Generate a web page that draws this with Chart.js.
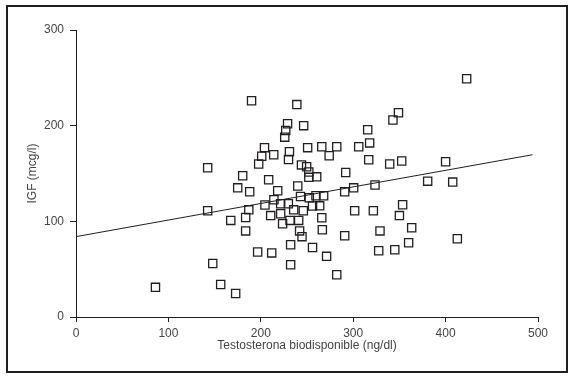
<!DOCTYPE html>
<html>
<head>
<meta charset="utf-8">
<script src="https://cdn.jsdelivr.net/npm/chart.js@4/dist/chart.umd.min.js"></script>
<style>
  html, body { margin:0; padding:0; background:#fff; }
  #wrap { position:relative; width:571px; height:379px; }
  #frame {
    position:absolute; left:6px; top:5px; width:562px; height:368px;
    box-sizing:border-box; border:2px solid #231f20; pointer-events:none;
  }
  #c { position:absolute; left:0; top:0; }
</style>
</head>
<body>
<div id="wrap">
  <canvas id="c" width="571" height="379"></canvas>
  <div id="frame"></div>
</div>
<script>
// bioavailable testosterone (ng/dl) vs IGF (mcg/l)
const testosterona = [
  86, 142.5, 142.5, 148, 156.6, 167.5, 172.8, 175, 180.4, 183.6,
  183.6, 187, 188, 190, 196.6, 197.7, 201, 204, 204.5, 208.5,
  210.7, 211.8, 214, 214.2, 218.3, 221.5, 221.5, 223.6, 225.9, 227,
  229, 229.8, 230, 231, 231.6, 232.3, 232.3, 235.6, 239, 240,
  241, 242, 243, 244, 244.6, 246, 246.4, 249.6, 250.7, 252,
  252, 252.5, 256, 256, 259.7, 260.5, 263.7, 266, 266, 266.6,
  268, 271.2, 274, 282.2, 282.2, 290.8, 290.8, 291.9, 300.5, 301.6,
  306, 315.7, 316.8, 317.8, 321.8, 323.6, 327.6, 329, 339.5, 343,
  345, 349, 350, 352.5, 353.5, 360, 363.3, 380.6, 400, 407.7,
  412.7, 422.8
];
const igf = [
  31, 156, 111, 56, 34, 101, 24.5, 135, 147.6, 104,
  90, 112, 131, 226, 68, 160, 168, 177, 117, 143.5,
  106, 67, 169.6, 122.6, 132, 118.4, 108, 97.5, 188, 195,
  202, 118.4, 164.7, 172.7, 101, 75.6, 54.6, 112, 222, 137,
  101, 90, 126, 159, 84, 111, 200, 157, 177, 151.5,
  146, 124.7, 116, 72.6, 126.7, 146.5, 116.2, 178, 103.8, 91.2,
  126.7, 63.4, 168.6, 178, 44.2, 131, 85, 151, 135, 111,
  178, 195.7, 164.3, 182, 111, 138, 69.3, 90, 160, 206,
  70.3, 213.5, 106, 163, 117.4, 77.6, 93.3, 142, 162.3, 141,
  81.8, 249
];
// fitted line end points
const fitX = [0, 494];
const fitY = [84, 169.6];

const INK = "#231f20";
const TXT = "#444";

const points = testosterona.map((x, i) => ({ x, y: igf[i] }));
const fit = fitX.map((x, i) => ({ x, y: fitY[i] }));

new Chart(document.getElementById("c"), {
  type: "scatter",
  data: {
    datasets: [
      {
        type: "line",
        data: fit,
        borderColor: INK,
        borderWidth: 1,
        pointRadius: 0,
        fill: false
      },
      {
        data: points,
        pointStyle: "rect",
        pointRadius: 5.8,
        pointBorderColor: INK,
        pointBackgroundColor: "transparent",
        pointBorderWidth: 1.3
      }
    ]
  },
  options: {
    responsive: false,
    animation: false,
    layout: { padding: { left: 0, top: 30, right: 33, bottom: 0 } },
    plugins: { legend: { display: false }, tooltip: { enabled: false } },
    scales: {
      x: {
        type: "linear",
        min: 0, max: 500,
        ticks: { stepSize: 100, color: TXT, padding: 4, font: { family: "Liberation Sans", size: 12 } },
        grid: { drawOnChartArea: false, drawTicks: true, tickLength: 5, color: INK },
        border: { display: true, color: INK, width: 1 },
        title: {
          display: true,
          text: "Testosterona biodisponible (ng/dl)",
          color: TXT,
          font: { family: "Liberation Sans", size: 12 },
          padding: { top: 0, bottom: 26 }
        },
        afterFit: (s) => { s.height = 62; }
      },
      y: {
        min: 0, max: 300,
        ticks: { stepSize: 100, color: TXT, padding: 6, font: { family: "Liberation Sans", size: 12 } },
        grid: { drawOnChartArea: false, drawTicks: true, tickLength: 6, color: INK },
        border: { display: true, color: INK, width: 1 },
        title: {
          display: true,
          text: "IGF (mcg/l)",
          color: TXT,
          font: { family: "Liberation Sans", size: 12 },
          padding: { top: 25, bottom: 0 }
        },
        afterFit: (s) => { s.width = 76; }
      }
    }
  }
});
</script>
</body>
</html>
